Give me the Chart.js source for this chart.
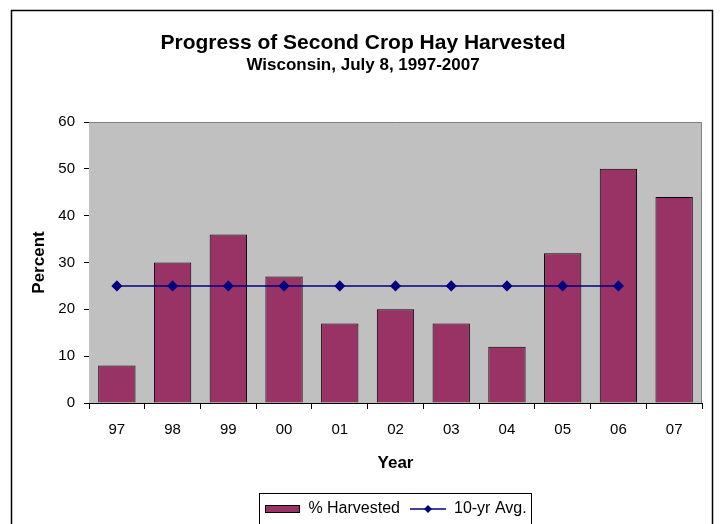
<!DOCTYPE html>
<html lang="en">
<head>
    <meta charset="UTF-8">
    <title>Progress of Second Crop Hay Harvested</title>
    <script src="https://cdn.jsdelivr.net/npm/chart.js"></script>
    <style>
        body {
            margin: 0;
            padding: 0;
            background-color: #ffffff;
            width: 720px;
            height: 524px;
            overflow: hidden;
        }
        canvas {
            display: block;
        }
    </style>
</head>
<body>

    <canvas id="hayChart" width="720" height="545"></canvas>

    <script>
        // Second crop hay harvested, Wisconsin, July 8
        const years = ['97', '98', '99', '00', '01', '02', '03', '04', '05', '06', '07'];
        const harvested = [8, 30, 36, 27, 17, 20, 17, 12, 32, 50, 44];
        const tenYearAvg = [25, 25, 25, 25, 25, 25, 25, 25, 25, 25, null];
        const yTicks = [0, 10, 20, 30, 40, 50, 60];

        const barColor = '#993366';
        const lineColor = '#000080';
        const fontFamily = "'Liberation Sans', Arial, sans-serif";

        // little pictures for the legend keys
        function barKey() {
            const c = document.createElement('canvas');
            c.width = 35; c.height = 8;
            const g = c.getContext('2d');
            g.fillStyle = barColor;
            g.fillRect(0, 0, 35, 8);
            g.strokeStyle = '#000';
            g.lineWidth = 1;
            g.strokeRect(0.5, 0.5, 34, 7);
            return c;
        }

        function lineKey() {
            const c = document.createElement('canvas');
            c.width = 36; c.height = 10;
            const g = c.getContext('2d');
            g.strokeStyle = lineColor;
            g.lineWidth = 1.5;
            g.beginPath();
            g.moveTo(0, 5); g.lineTo(36, 5);
            g.stroke();
            g.fillStyle = lineColor;
            g.beginPath();
            g.moveTo(18, 1); g.lineTo(22, 5); g.lineTo(18, 9); g.lineTo(14, 5);
            g.closePath();
            g.fill();
            return c;
        }

        // grey plot area, outer frame and legend box
        const decor = {
            id: 'decor',
            beforeDatasetsDraw(chart) {
                const a = chart.chartArea;
                const ctx = chart.ctx;
                ctx.save();
                ctx.fillStyle = '#C0C0C0';
                ctx.fillRect(a.left, a.top, a.right - a.left, a.bottom - a.top);
                ctx.strokeStyle = '#808080';
                ctx.lineWidth = 1;
                ctx.beginPath();
                ctx.moveTo(a.left, a.top + 0.5);
                ctx.lineTo(a.right - 0.5, a.top + 0.5);
                ctx.lineTo(a.right - 0.5, a.bottom);
                ctx.stroke();
                ctx.restore();
            },
            afterDraw(chart) {
                const ctx = chart.ctx;
                ctx.save();
                ctx.strokeStyle = '#000';
                ctx.lineWidth = 1.5;
                ctx.strokeRect(11.5, 10.5, 701, 560);

                const boxes = chart.legend.legendHitBoxes;
                if (boxes && boxes.length) {
                    const left = Math.min(...boxes.map(b => b.left)) - 5;
                    const right = Math.max(...boxes.map(b => b.left + b.width)) + 5;
                    ctx.lineWidth = 1;
                    ctx.strokeStyle = '#000';
                    ctx.strokeRect(Math.round(left) + 0.5, 493.5, Math.round(right - left), 80);
                }
                ctx.restore();
            }
        };

        const ctx = document.getElementById('hayChart').getContext('2d');
        const chart = new Chart(ctx, {
            type: 'bar',
            data: {
                labels: years,
                datasets: [
                    {
                        label: '% Harvested',
                        data: harvested,
                        backgroundColor: barColor,
                        borderColor: '#000',
                        borderWidth: 1,
                        barPercentage: 0.67,
                        categoryPercentage: 1,
                        order: 2
                    },
                    {
                        type: 'line',
                        label: '10-yr Avg.',
                        data: tenYearAvg,
                        borderColor: lineColor,
                        backgroundColor: lineColor,
                        borderWidth: 1.5,
                        pointStyle: 'rectRot',
                        pointRadius: 4.5,
                        pointHoverRadius: 4.5,
                        pointBackgroundColor: lineColor,
                        pointBorderColor: lineColor,
                        fill: false,
                        tension: 0,
                        order: 1
                    }
                ]
            },
            options: {
                responsive: false,
                animation: false,
                layout: {
                    padding: { top: 1, left: 6, right: 0, bottom: 18 }
                },
                scales: {
                    x: {
                        afterFit: s => { s.height = 88; },
                        grid: {
                            offset: true,
                            drawOnChartArea: false,
                            drawTicks: true,
                            tickLength: 6,
                            color: '#000'
                        },
                        border: { display: true, color: '#000', width: 1 },
                        ticks: {
                            color: '#000',
                            padding: 12,
                            font: { family: fontFamily, size: 15 }
                        },
                        title: {
                            display: true,
                            text: 'Year',
                            color: '#000',
                            padding: { top: 0, bottom: 17.8 },
                            font: { family: fontFamily, size: 17, weight: 'bold' }
                        }
                    },
                    y: {
                        min: 0,
                        max: 60,
                        afterFit: s => { s.width = 83; },
                        afterBuildTicks: s => { s.ticks = yTicks.map(v => ({ value: v })); },
                        grid: {
                            drawOnChartArea: false,
                            drawTicks: true,
                            tickLength: 5,
                            color: '#000'
                        },
                        border: { display: true, color: '#000', width: 1 },
                        ticks: {
                            color: '#000',
                            padding: 9,
                            font: { family: fontFamily, size: 15 }
                        },
                        title: {
                            display: true,
                            text: 'Percent',
                            color: '#000',
                            padding: { top: 23, bottom: 0 },
                            font: { family: fontFamily, size: 17, weight: 'bold' }
                        }
                    },
                    // empty strip on the right, keeps the titles centred like the original
                    yRight: {
                        position: 'right',
                        min: 0,
                        max: 60,
                        afterFit: s => { s.width = 18; },
                        grid: { display: false },
                        border: { display: false },
                        ticks: { display: false }
                    }
                },
                plugins: {
                    title: {
                        display: true,
                        text: 'Progress of Second Crop Hay Harvested',
                        color: '#000',
                        padding: { top: 29.4, bottom: 0 },
                        font: { family: fontFamily, size: 21, weight: 'bold' }
                    },
                    subtitle: {
                        display: true,
                        text: 'Wisconsin, July 8, 1997-2007',
                        color: '#000',
                        padding: { top: 0, bottom: 46 },
                        font: { family: fontFamily, size: 17, weight: 'bold' }
                    },
                    legend: {
                        position: 'bottom',
                        fullSize: false,
                        labels: {
                            usePointStyle: true,
                            pointStyleWidth: 36,
                            padding: 10,
                            color: '#000',
                            font: { family: fontFamily, size: 16 },
                            generateLabels: () => [
                                { text: '% Harvested', pointStyle: barKey(), datasetIndex: 0, hidden: false, fontColor: '#000', lineWidth: 0 },
                                { text: '10-yr Avg.', pointStyle: lineKey(), datasetIndex: 1, hidden: false, fontColor: '#000', lineWidth: 0 }
                            ]
                        }
                    },
                    tooltip: { enabled: false }
                }
            },
            plugins: [decor]
        });
    </script>

</body>
</html>
